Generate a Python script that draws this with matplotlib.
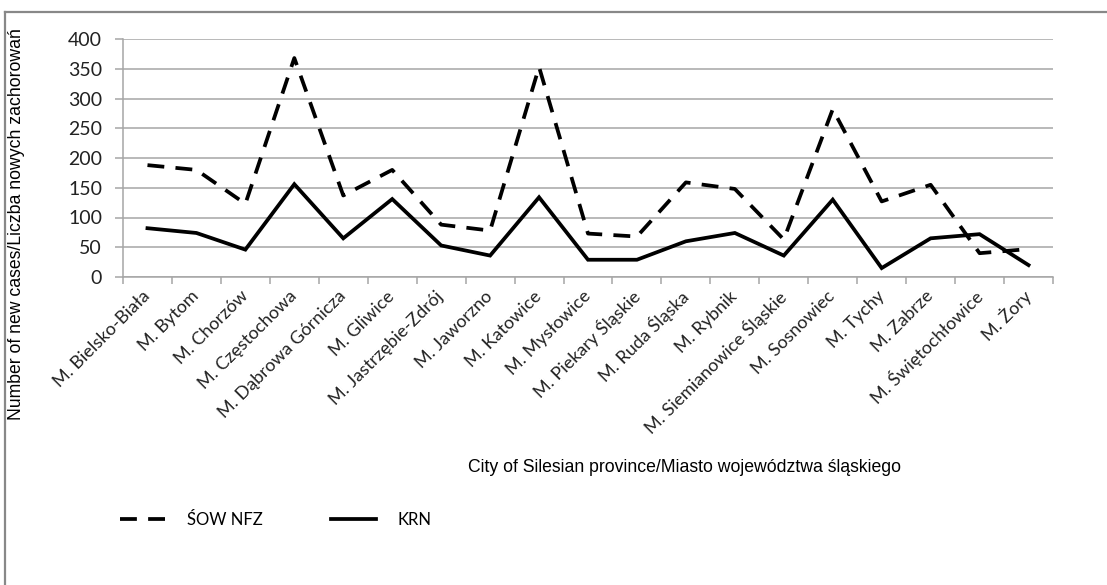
import numpy as np
import matplotlib
matplotlib.use("Agg")
import matplotlib.pyplot as plt
from matplotlib.lines import Line2D

cities = ["M. Bielsko-Biała", "M. Bytom", "M. Chorzów", "M. Częstochowa",
          "M. Dąbrowa Górnicza", "M. Gliwice", "M. Jastrzębie-Zdrój",
          "M. Jaworzno", "M. Katowice", "M. Mysłowice", "M. Piekary Śląskie",
          "M. Ruda Śląska", "M. Rybnik", "M. Siemianowice Śląskie",
          "M. Sosnowiec", "M. Tychy", "M. Zabrze", "M. Świętochłowice",
          "M. Żory"]
sow_nfz = [188, 180, 123, 368, 137, 180, 88, 78, 353, 73, 68, 159, 148, 63,
           282, 127, 155, 40, 47]
krn = [82, 74, 46, 156, 65, 131, 53, 36, 134, 29, 29, 60, 74, 36, 130, 15,
       65, 72, 20]
y_ticks = [0, 50, 100, 150, 200, 250, 300, 350, 400]

W, H = 1107, 585
fig = plt.figure(figsize=(W / 100, H / 100), dpi=100)
ax = fig.add_axes([123 / W, 1 - 277 / H, (1053 - 123) / W, (277 - 39) / H])

x = np.arange(len(cities))
grid_c = "#a6a6a6"

ax.plot(x, sow_nfz, color="black", lw=2.7, dashes=(4.5, 3), label="ŚOW NFZ")
ax.plot(x, krn, color="black", lw=2.7, solid_joinstyle="miter", label="KRN")

ax.set_xlim(-0.5, len(cities) - 0.5)
ax.set_ylim(0, 400)
ax.set_yticks(y_ticks)
ax.set_yticklabels([str(v) for v in y_ticks], fontsize=14, family="Lato",
                   color="#222222")
ax.yaxis.grid(True, color=grid_c, lw=1.1)
ax.set_axisbelow(True)

# category labels at centres, tick marks at boundaries
ax.set_xticks(x)
ax.set_xticklabels(cities, rotation=45, ha="right", va="center",
                   rotation_mode="anchor", fontsize=13, family="Lato",
                   color="#222222")
ax.set_xticks(np.arange(-0.5, len(cities)), minor=True)
ax.tick_params(axis="x", which="major", length=0, pad=12)
ax.tick_params(axis="x", which="minor", length=5, color=grid_c, width=1.1)
ax.tick_params(axis="y", length=6, color=grid_c, width=1.1, pad=9)

for s in ["top", "right"]:
    ax.spines[s].set_visible(False)
for s in ["left", "bottom"]:
    ax.spines[s].set_color(grid_c)
    ax.spines[s].set_linewidth(1.1)

fig.text(685 / W, 1 - 468 / H,
         "City of Silesian province/Miasto województwa śląskiego",
         ha="center", va="center", fontsize=12.7, family="Liberation Sans")
fig.text(17 / W, 1 - 224 / H,
         "Number of new cases/Liczba nowych zachorowań",
         ha="center", va="center", rotation=90, fontsize=12.7,
         family="Liberation Sans")

fig.legend(loc="center left", bbox_to_anchor=(120 / W, 1 - 520 / H),
           ncol=2, frameon=False, handlelength=2.7, handletextpad=1.3,
           columnspacing=4.1, borderpad=0, borderaxespad=0,
           prop={"family": "Lato", "size": 12})

# chart border (top and left edges visible)
fig.add_artist(Line2D([5 / W, 1], [1 - 12 / H, 1 - 12 / H], color="#888888",
                      lw=1.6, transform=fig.transFigure))
fig.add_artist(Line2D([5 / W, 5 / W], [0, 1 - 12 / H], color="#888888",
                      lw=1.6, transform=fig.transFigure))

fig.savefig("out.png", dpi=100)
